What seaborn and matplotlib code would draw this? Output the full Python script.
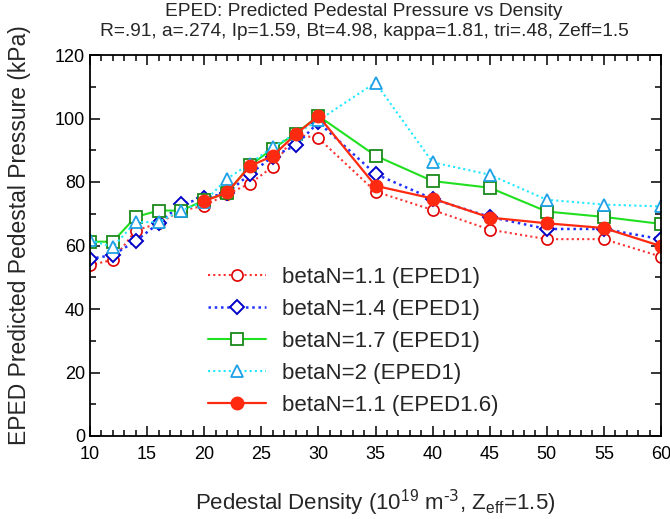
import numpy as np
import pandas as pd
import matplotlib
matplotlib.use("Agg")
import matplotlib.pyplot as plt
import seaborn as sns
from matplotlib.ticker import MultipleLocator

density = [10, 12, 14, 16, 18, 20, 22, 24, 26, 28, 30, 35, 40, 45, 50, 55, 60]
density16 = [20, 22, 24, 26, 28, 30, 35, 40, 45, 50, 55, 60]

p_bn11 = [53.8, 55.5, 64.7, 67.0, 71.0, 72.5, 76.2, 79.5, 84.8, 95.0, 93.8, 77.0, 71.2, 65.0, 62.0, 62.0, 56.5]
p_bn14 = [55.8, 57.0, 61.4, 67.0, 73.0, 75.0, 76.5, 82.5, 88.0, 91.5, 98.8, 82.5, 74.7, 69.0, 65.2, 65.2, 62.0]
p_bn17 = [61.2, 61.2, 69.0, 71.0, 71.0, 74.2, 76.5, 85.2, 90.5, 95.2, 100.8, 88.3, 80.3, 78.2, 70.7, 69.0, 66.8]
p_bn20 = [61.6, 59.6, 67.3, 67.4, 71.0, 73.8, 81.0, 85.8, 91.0, 95.2, 99.4, 111.3, 86.2, 82.3, 74.4, 72.9, 72.3]
p_bn11_16 = [74.0, 76.7, 85.0, 88.2, 95.0, 100.8, 78.8, 74.8, 68.8, 67.0, 65.5, 59.8]

labels = ["betaN=1.1 (EPED1)", "betaN=1.4 (EPED1)", "betaN=1.7 (EPED1)",
          "betaN=2 (EPED1)", "betaN=1.1 (EPED1.6)"]

sns.set_style("ticks")
plt.rcParams['font.family'] = ['Liberation Sans', 'DejaVu Sans']
plt.rcParams['mathtext.default'] = 'regular'

fig = plt.figure(figsize=(6.7, 5.19), dpi=100)
ax = fig.add_axes([90/670, 1-436/519, (661-90)/670, (436-55)/519])

series = [
    (density, p_bn11, labels[0], dict(color="#ff3030", linestyle=(0, (1, 1.5)), marker="o", ms=8,
                                       mfc="white", mec="#e00000", mew=1.2, lw=1.5)),
    (density, p_bn14, labels[1], dict(color="#2030ff", linestyle=(0, (1, 1.5)), marker="D", ms=7.5,
                                       mfc="white", mec="#0000c8", mew=1.4, lw=1.8)),
    (density, p_bn17, labels[2], dict(color="#20e020", linestyle="-", marker="s", ms=8,
                                       mfc="white", mec="#1a8a1a", mew=1.3, lw=1.5)),
    (density, p_bn20, labels[3], dict(color="#20e8ff", linestyle=(0, (1, 1.5)), marker="^", ms=9,
                                       mfc="white", mec="#1ea0e6", mew=1.3, lw=1.5)),
    (density16, p_bn11_16, labels[4], dict(color="#ff2a10", linestyle="-", marker="o", ms=9,
                                           mfc="#ff2a10", mec="#ff2a10", mew=1.0, lw=1.6)),
]

for x, y, lab, kw in series:
    df = pd.DataFrame({"x": x, "y": y})
    sns.lineplot(data=df, x="x", y="y", ax=ax, label=lab, **kw)

ax.set_xlim(10, 60)
ax.set_ylim(0, 120)
ax.xaxis.set_major_locator(MultipleLocator(5))
ax.xaxis.set_minor_locator(MultipleLocator(1))
ax.yaxis.set_major_locator(MultipleLocator(20))
ax.yaxis.set_minor_locator(MultipleLocator(10))
ax.tick_params(which="both", direction="in", top=True, right=True, labelsize=13, width=1.1, colors="black")
ax.tick_params(which="major", length=7)
ax.tick_params(which="minor", length=4)
ax.tick_params(axis="x", which="major", pad=7)
for s in ax.spines.values():
    s.set_linewidth(1.3)
    s.set_color("black")

ax.set_xlabel(r"Pedestal Density (10$^{19}$ m$^{\text{-3}}$, Z$_{eff}$=1.5)", fontsize=16, labelpad=18)
ax.set_ylabel("EPED Predicted Pedestal Pressure (kPa)", fontsize=16.5)
ax.yaxis.set_label_coords(-0.103, 0.526)
fig.text(364/670, 1-12/519, "EPED: Predicted Pedestal Pressure vs Density", ha="center", va="center", fontsize=13.8)
fig.text(364/670, 1-32/519, "R=.91, a=.274, Ip=1.59, Bt=4.98, kappa=1.81, tri=.48, Zeff=1.5",
         ha="center", va="center", fontsize=13.8)

leg = ax.legend(loc="lower left", bbox_to_anchor=(0.172, 0.0), frameon=False, fontsize=16,
                handlelength=2.6, labelspacing=0.5, handletextpad=0.7)

fig.savefig("out.png", dpi=100)
